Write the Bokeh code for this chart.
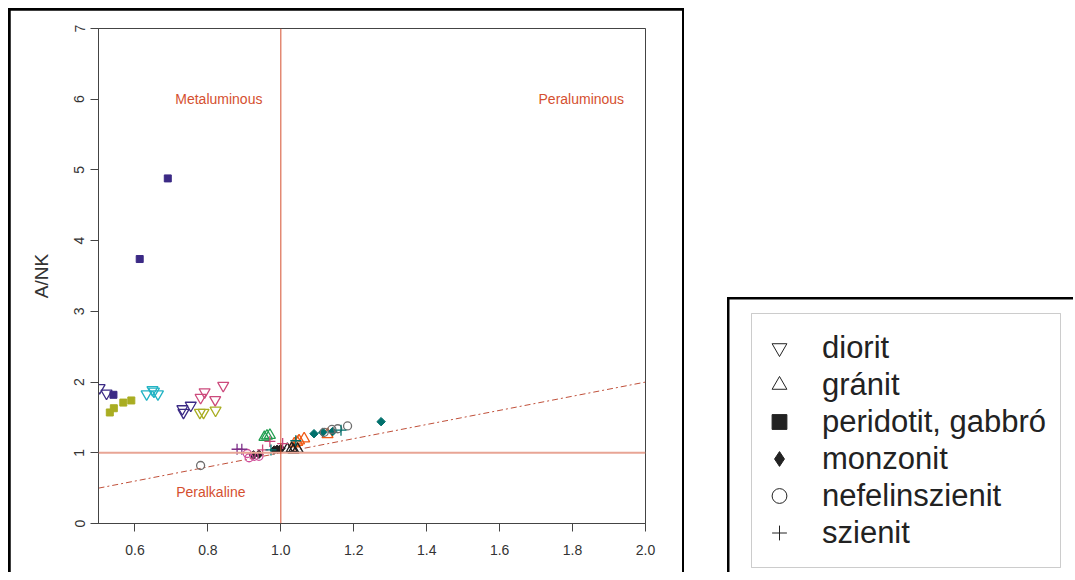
import math
from bokeh.plotting import figure
from bokeh.models import (Range1d, FixedTicker, Span, Label, Legend, LegendItem,
                          BoxAnnotation, Spacer)
from bokeh.layouts import row, column
from bokeh.embed import file_html
from bokeh.resources import INLINE

# ---------------- data ----------------
x_ticks = [0.6, 0.8, 1.0, 1.2, 1.4, 1.6, 1.8, 2.0]
x_tick_labels = ["0.6", "0.8", "1.0", "1.2", "1.4", "1.6", "1.8", "2.0"]
y_ticks = [0, 1, 2, 3, 4, 5, 6, 7]
y_tick_labels = ["0", "1", "2", "3", "4", "5", "6", "7"]

# diorit (open down-triangles)
diorit_x = [0.503, 0.522, 0.730, 0.733, 0.753, 0.632, 0.648, 0.663, 0.652,
            0.778, 0.788, 0.821, 0.791, 0.780, 0.820, 0.842]
diorit_y = [1.92, 1.84, 1.62, 1.57, 1.67, 1.83, 1.89, 1.83, 1.87,
            1.57, 1.57, 1.60, 1.86, 1.78, 1.75, 1.95]
diorit_g = ["ind", "ind", "ind", "ind", "ind", "cya", "cya", "cya", "cya",
            "oli", "oli", "oli", "pnk", "pnk", "pnk", "pnk"]

# granit (open up-triangles)
granit_x = [0.955, 0.962, 0.970, 1.037, 1.050, 1.064, 1.045, 1.128,
            1.018, 1.030, 1.046, 1.035]
granit_y = [1.22, 1.24, 1.25, 1.13, 1.17, 1.20, 1.15, 1.26,
            1.05, 1.06, 1.05, 1.04]
granit_g = ["grn", "grn", "grn", "orn", "orn", "orn", "orn", "orn",
            "blk", "blk", "blk", "blk"]

# peridotit, gabbro (filled squares)
perid_x = [0.690, 0.613, 0.541, 0.531, 0.542, 0.568, 0.590]
perid_y = [4.88, 3.74, 1.82, 1.57, 1.63, 1.71, 1.74]
perid_g = ["ind", "ind", "ind", "oli", "oli", "oli", "oli"]

# monzonit (filled diamonds)
monz_x = [0.940, 0.925, 0.982, 1.000, 0.990, 1.091, 1.115, 1.142, 1.275]
monz_y = [0.98, 0.97, 1.04, 1.06, 1.05, 1.27, 1.29, 1.30, 1.44]
monz_g = ["blk", "blk", "blk", "blk", "blk", "tea", "tea", "tea", "tea"]

# nefelinszienit (open circles)
nef_x = [0.780, 1.119, 1.156, 1.183, 1.140, 0.908, 0.913, 0.927, 0.940]
nef_y = [0.82, 1.29, 1.34, 1.38, 1.33, 0.99, 0.93, 0.95, 0.95]
nef_g = ["gry", "gry", "gry", "gry", "gry", "mag", "mag", "mag", "mag"]

# szienit (crosses)
szi_x = [0.880, 0.893, 0.950, 0.970, 1.005, 0.973, 1.041, 1.165]
szi_y = [1.05, 1.05, 1.04, 1.16, 1.13, 1.04, 1.17, 1.32]
szi_g = ["pur", "pur", "pnk", "pnk", "pnk", "tea", "tea", "tea"]

ref_x = [0.5, 2.0]          # reference line A/NK = A/CNK
ref_y = [0.5, 2.0]

legend_labels = ["diorit", "gránit", "peridotit, gabbró", "monzonit",
                 "nefelinszienit", "szienit"]

# ---------------- styles ----------------
palette = {"ind": "#3b2a85", "oli": "#a9ad22", "cya": "#22b3c4", "pnk": "#cc4a7c",
           "grn": "#1e9e4e", "orn": "#f05a14", "tea": "#00706c", "blk": "#1f1f1f",
           "gry": "#6e6e6e", "pur": "#7e3089", "mag": "#d0509a"}
FONT = "Liberation Sans"
RED = "#d5502f"
DIAMOND = math.pi / 4

def cols(groups):
    return [palette[g] for g in groups]

p = figure(width=672, height=562, x_range=Range1d(0.5, 2.0), y_range=Range1d(0, 7),
           output_backend="svg", toolbar_location=None,
           min_border_left=88, min_border_top=18, min_border_right=37,
           min_border_bottom=49, background_fill_color="white",
           border_fill_color="white")
p.grid.visible = False
p.outline_line_color = "#444444"
p.outline_line_width = 1

p.xaxis.ticker = FixedTicker(ticks=x_ticks)
p.xaxis.major_label_overrides = dict(zip(x_ticks, x_tick_labels))
p.yaxis.ticker = FixedTicker(ticks=y_ticks)
p.yaxis.major_label_overrides = dict(zip(y_ticks, y_tick_labels))
for ax in (p.xaxis, p.yaxis):
    ax.axis_line_color = "#444444"
    ax.major_tick_line_color = "#444444"
    ax.minor_tick_line_color = None
    ax.major_tick_out = 8
    ax.major_tick_in = 0
    ax.major_label_text_font = FONT
    ax.major_label_text_font_size = "14px"
    ax.major_label_text_color = "#333333"
p.xaxis.major_label_standoff = 13
p.yaxis.major_label_standoff = 6
p.yaxis.major_label_orientation = "vertical"
p.yaxis.axis_label = "A/NK"
p.yaxis.axis_label_text_font = FONT
p.yaxis.axis_label_text_font_size = "19px"
p.yaxis.axis_label_text_font_style = "normal"
p.yaxis.axis_label_text_color = "#333333"
p.yaxis.axis_label_standoff = 20

# reference lines
p.add_layout(Span(location=1, dimension="width", line_color="#e8a595", line_width=2))
p.add_layout(Span(location=1, dimension="height", line_color=RED, line_width=1))
p.line(ref_x, ref_y, line_color="#c0503a", line_width=1, line_dash="6 3 2 3")

# field labels
for txt, lx, ly in [("Metaluminous", 0.83, 6.0), ("Peraluminous", 1.824, 6.0),
                    ("Peralkaline", 0.808, 0.45)]:
    p.add_layout(Label(x=lx, y=ly, text=txt, text_align="center",
                       text_baseline="middle", text_font=FONT,
                       text_font_size="14px", text_color=RED))

# data
p.scatter(diorit_x, diorit_y, marker="inverted_triangle", size=11,
          fill_color=None, line_color=cols(diorit_g), line_width=1.3)
p.scatter(granit_x, granit_y, marker="triangle", size=11,
          fill_color=None, line_color=cols(granit_g), line_width=1.3)
p.scatter(perid_x, perid_y, marker="square", size=7,
          fill_color=cols(perid_g), line_color=cols(perid_g))
p.scatter(monz_x, monz_y, marker="square", angle=DIAMOND, size=6,
          fill_color=cols(monz_g), line_color=cols(monz_g))
p.scatter(nef_x, nef_y, marker="circle", size=8,
          fill_color=None, line_color=cols(nef_g), line_width=1.3)
p.scatter(szi_x, szi_y, marker="cross", size=11,
          line_color=cols(szi_g), line_width=1.3)

# ---------------- legend panel ----------------
# q's ranges are set to page pixels so the boxes can be placed precisely
q = figure(width=344, height=273, x_range=Range1d(729, 1073), y_range=Range1d(572, 299),
           output_backend="svg", toolbar_location=None,
           x_axis_location=None, y_axis_location=None,
           min_border_left=0, min_border_top=0, min_border_right=0,
           min_border_bottom=0, background_fill_color="white",
           border_fill_color="white")
q.grid.visible = False
q.outline_line_color = None

K = "#222222"
hx, hy = [0], [0]   # hidden (outside the visible range) - only for legend glyphs
lr = [
    q.scatter(hx, hy, marker="inverted_triangle", fill_color=None, line_color=K, line_width=1),
    q.scatter(hx, hy, marker="triangle", fill_color=None, line_color=K, line_width=1),
    q.scatter(hx, hy, marker="square", fill_color=K, line_color=K),
    q.scatter(hx, hy, marker="diamond", fill_color=K, line_color=K),
    q.scatter(hx, hy, marker="circle", fill_color=None, line_color=K, line_width=1),
    q.scatter(hx, hy, marker="cross", line_color=K, line_width=1),
]
leg = Legend(items=[LegendItem(label=l, renderers=[r]) for l, r in zip(legend_labels, lr)],
             location="top_left", margin=30, padding=0, spacing=0,
             glyph_width=40, glyph_height=37, label_height=37, label_standoff=23,
             label_text_font=FONT, label_text_font_size="31px",
             label_text_color="#222222", border_line_color=None,
             background_fill_alpha=0)
q.add_layout(leg)
q.add_layout(BoxAnnotation(left=751, right=1060, top=313, bottom=567,
                           fill_alpha=0, line_color="#555555", line_width=1))

left_panel = column(p, styles={"background-color": "black", "padding": "2px 2px 0px 2px"})
right_panel = column(q, styles={"background-color": "black", "padding": "2px 0px 0px 2px"})
inner = row(left_panel, Spacer(width=43), column(Spacer(height=289), right_panel))
layout = column(Spacer(height=8), row(Spacer(width=8), inner))
open("out.html", "w").write(file_html(layout, INLINE))
